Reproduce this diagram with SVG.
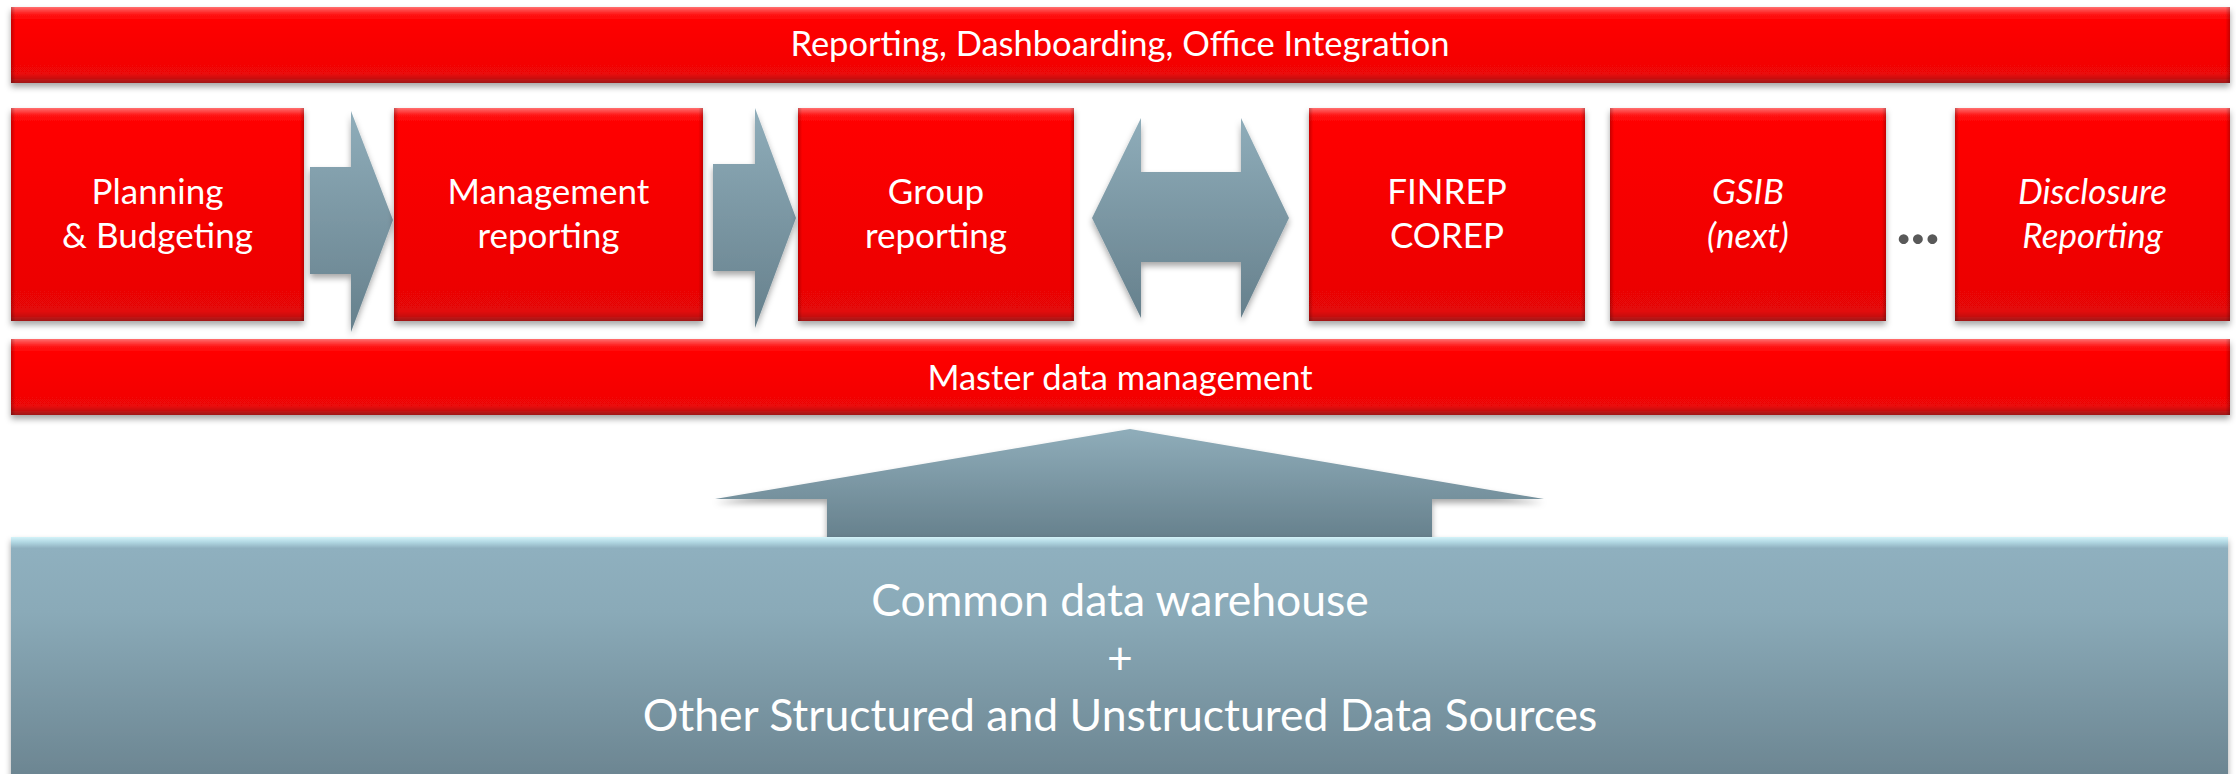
<svg xmlns="http://www.w3.org/2000/svg" width="2236" height="774" viewBox="0 0 2236 774">
<defs>
<style>
.t{font-family:Lato,"Open Sans","Liberation Sans",sans-serif;fill:#ffffff;text-anchor:middle}
.bar-t{font-size:34.5px}
.box-t{font-size:35px}
.it{font-style:italic}
.dw{font-size:44.5px}
</style>
<linearGradient id="gBar" x1="0" y1="0" x2="0" y2="1">
<stop offset="0" stop-color="#ff7070"/>
<stop offset="0.04" stop-color="#ff4848"/>
<stop offset="0.10" stop-color="#ff1414"/>
<stop offset="0.16" stop-color="#ff0606"/>
<stop offset="0.75" stop-color="#f40606"/>
<stop offset="0.88" stop-color="#ea0707"/>
<stop offset="0.93" stop-color="#cf1010"/>
<stop offset="1" stop-color="#a01818"/>
</linearGradient>
<linearGradient id="gBox" x1="0" y1="0" x2="0" y2="1">
<stop offset="0" stop-color="#ff7070"/>
<stop offset="0.015" stop-color="#ff4848"/>
<stop offset="0.035" stop-color="#ff1414"/>
<stop offset="0.06" stop-color="#ff0606"/>
<stop offset="0.85" stop-color="#ec0606"/>
<stop offset="0.955" stop-color="#e20707"/>
<stop offset="0.978" stop-color="#c81010"/>
<stop offset="1" stop-color="#a01818"/>
</linearGradient>
<linearGradient id="sBar" x1="0" y1="0" x2="1" y2="0">
<stop offset="0" stop-color="#000" stop-opacity="0.22"/>
<stop offset="0.002" stop-color="#000" stop-opacity="0"/>
<stop offset="0.998" stop-color="#000" stop-opacity="0"/>
<stop offset="1" stop-color="#000" stop-opacity="0.22"/>
</linearGradient>
<linearGradient id="sBox" x1="0" y1="0" x2="1" y2="0">
<stop offset="0" stop-color="#000" stop-opacity="0.22"/>
<stop offset="0.015" stop-color="#000" stop-opacity="0"/>
<stop offset="0.985" stop-color="#000" stop-opacity="0"/>
<stop offset="1" stop-color="#000" stop-opacity="0.22"/>
</linearGradient>
<linearGradient id="gArrow" x1="0" y1="0" x2="0" y2="1">
<stop offset="0" stop-color="#8fadba"/>
<stop offset="1" stop-color="#66808c"/>
</linearGradient>
<linearGradient id="gBase" x1="0" y1="0" x2="0" y2="1">
<stop offset="0" stop-color="#d4f3f9"/>
<stop offset="0.02" stop-color="#b2d8e3"/>
<stop offset="0.045" stop-color="#8fb0bf"/>
<stop offset="0.3" stop-color="#8aaab8"/>
<stop offset="1" stop-color="#6a838f"/>
</linearGradient>
<filter id="sh" x="-5%" y="-10%" width="110%" height="130%">
<feDropShadow dx="0" dy="4" stdDeviation="3" flood-color="#000" flood-opacity="0.35"/>
</filter>
</defs>
<rect width="2236" height="774" fill="#ffffff"/>

<g id="connectors">
<polygon filter="url(#sh)" fill="url(#gArrow)" points="310,167 351,167 351,111 393,220 351,332 351,274 310,274"/>
<polygon filter="url(#sh)" fill="url(#gArrow)" points="713,164 755,164 755,108 796,218 755,328 755,271 713,271"/>
<polygon filter="url(#sh)" fill="url(#gArrow)" points="1092,218 1141,118 1141,172 1241,172 1241,118 1289,218 1241,318 1241,262 1141,262 1141,318"/>
<polygon filter="url(#sh)" fill="url(#gArrow)" points="1130,429 1544,499 1432,499 1432,540 827,540 827,499 715,499"/>
</g>

<g id="top-bar">
<rect x="11" y="7" width="2219" height="76" fill="url(#gBar)" filter="url(#sh)"/>
<rect x="11" y="7" width="2219" height="76" fill="url(#sBar)"/>
<text class="t bar-t" x="1120" y="56">Reporting, Dashboarding, Office Integration</text>
</g>

<g id="planning">
<rect x="11" y="108" width="293" height="213" fill="url(#gBox)" filter="url(#sh)"/>
<rect x="11" y="108" width="293" height="213" fill="url(#sBox)"/>
<text class="t box-t" x="157.5" y="204">Planning</text>
<text class="t box-t" x="157.5" y="248">&amp; Budgeting</text>
</g>

<g id="management">
<rect x="394" y="108" width="309" height="213" fill="url(#gBox)" filter="url(#sh)"/>
<rect x="394" y="108" width="309" height="213" fill="url(#sBox)"/>
<text class="t box-t" x="548.5" y="204">Management</text>
<text class="t box-t" x="548.5" y="248">reporting</text>
</g>

<g id="group">
<rect x="798" y="108" width="276" height="213" fill="url(#gBox)" filter="url(#sh)"/>
<rect x="798" y="108" width="276" height="213" fill="url(#sBox)"/>
<text class="t box-t" x="936" y="204">Group</text>
<text class="t box-t" x="936" y="248">reporting</text>
</g>

<g id="finrep">
<rect x="1309" y="108" width="276" height="213" fill="url(#gBox)" filter="url(#sh)"/>
<rect x="1309" y="108" width="276" height="213" fill="url(#sBox)"/>
<text class="t box-t" x="1447" y="204">FINREP</text>
<text class="t box-t" x="1447" y="248">COREP</text>
</g>

<g id="gsib">
<rect x="1610" y="108" width="276" height="213" fill="url(#gBox)" filter="url(#sh)"/>
<rect x="1610" y="108" width="276" height="213" fill="url(#sBox)"/>
<text class="t box-t it" x="1748" y="204">GSIB</text>
<text class="t box-t it" x="1748" y="248">(next)</text>
</g>

<g id="ellipsis">
<text x="1918" y="244" font-family="Lato,'Liberation Sans',sans-serif" font-weight="900" font-size="60" fill="#595959" text-anchor="middle">...</text>
</g>

<g id="disclosure">
<rect x="1955" y="108" width="275" height="213" fill="url(#gBox)" filter="url(#sh)"/>
<rect x="1955" y="108" width="275" height="213" fill="url(#sBox)"/>
<text class="t box-t it" x="2092.5" y="204">Disclosure</text>
<text class="t box-t it" x="2092.5" y="248">Reporting</text>
</g>

<g id="master-data">
<rect x="11" y="339" width="2219" height="76" fill="url(#gBar)" filter="url(#sh)"/>
<rect x="11" y="339" width="2219" height="76" fill="url(#sBar)"/>
<text class="t bar-t" x="1120" y="390">Master data management</text>
</g>

<g id="data-warehouse">
<rect x="11" y="537" width="2217" height="250" fill="url(#gBase)" filter="url(#sh)"/>
<text class="t dw" x="1120" y="616">Common data warehouse</text>
<text class="t dw" x="1120" y="674">+</text>
<text class="t dw" x="1120" y="731">Other Structured and Unstructured Data Sources</text>
</g>
</svg>
